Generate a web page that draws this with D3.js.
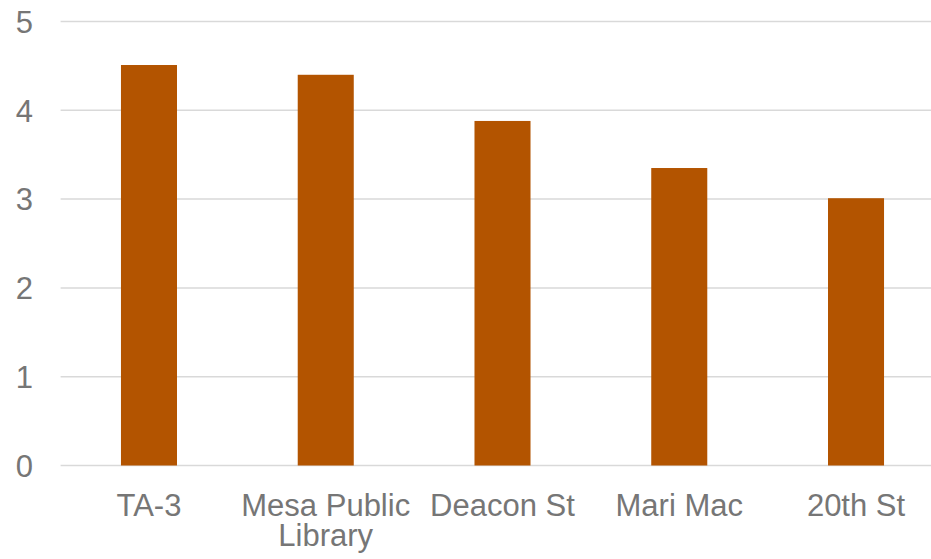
<!DOCTYPE html>
<html><head><meta charset="utf-8">
<script src="https://cdn.jsdelivr.net/npm/d3@7"></script>
<style>html,body{margin:0;padding:0;background:#fff;overflow:hidden}svg{display:block}</style>
</head><body>
<svg id="chart" width="931" height="559"></svg>
<script>
const categories = [["TA-3"], ["Mesa Public", "Library"], ["Deacon St"], ["Mari Mac"], ["20th St"]];
const values = [4.51, 4.40, 3.88, 3.35, 3.01];
const yTicks = [0, 1, 2, 3, 4, 5];

(function() {
const svg = d3.select("#chart");
const W = 931, H = 559;
const mLeft = 60.6, mRight = 944.4, mTop = 21.5, mBottom = 465.5;
const font = "'Liberation Sans', Arial, sans-serif";
const textColor = "#767676";

const x = d3.scaleBand().domain(d3.range(categories.length)).range([mLeft, mRight]).paddingInner(0.683).paddingOuter(0.3415);
const y = d3.scaleLinear().domain([0, 5]).range([mBottom, mTop]);

// gridlines
svg.append("g").selectAll("line").data(yTicks).join("line")
  .attr("x1", mLeft).attr("x2", W + 10)
  .attr("y1", d => y(d)).attr("y2", d => y(d))
  .attr("stroke", "#d9d9d9").attr("stroke-width", 1.5);

// y labels
svg.append("g").selectAll("text").data(yTicks).join("text")
  .attr("x", 33).attr("y", d => y(d) + 11.3)
  .attr("text-anchor", "end")
  .attr("font-family", font).attr("font-size", 31).attr("fill", textColor)
  .text(d => d);

// bars
svg.append("g").selectAll("rect").data(values).join("rect")
  .attr("x", (d, i) => x(i)).attr("width", x.bandwidth())
  .attr("y", d => y(d)).attr("height", d => y(0) - y(d))
  .attr("fill", "#B35400");

// x labels
const xl = svg.append("g").selectAll("text").data(categories).join("text")
  .attr("x", (d, i) => x(i) + x.bandwidth() / 2)
  .attr("y", 515.5)
  .attr("text-anchor", "middle")
  .attr("font-family", font).attr("font-size", 31).attr("fill", textColor);
xl.each(function(d, i) {
  const t = d3.select(this);
  d.forEach((line, j) => {
    t.append("tspan").attr("x", x(i) + x.bandwidth() / 2).attr("dy", j === 0 ? 0 : 30).text(line);
  });
});
})();
</script>
</body></html>
